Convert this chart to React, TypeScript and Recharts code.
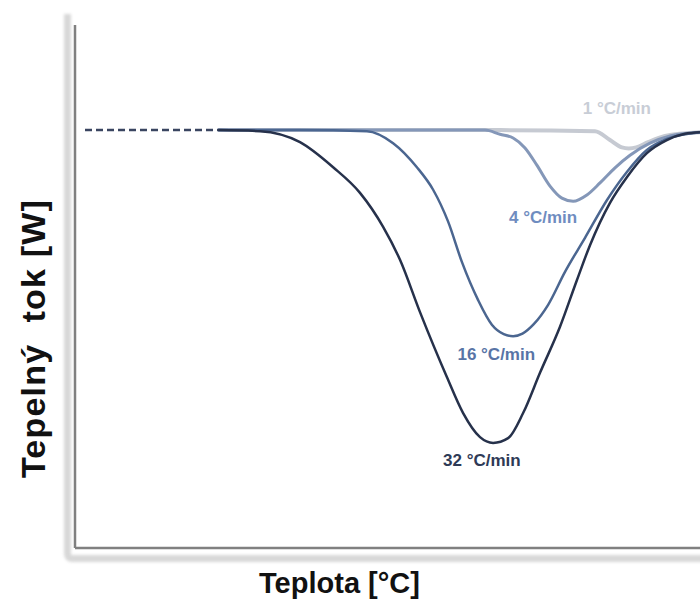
import React from 'react';
import { LineChart, Line, XAxis, YAxis, ReferenceDot } from 'recharts';

// temperature (arbitrary units 0-100) vs heat flow (arbitrary units 0-100)
const baseline = [
  { x: 1.6, y: 79.9 },
  { x: 22.9, y: 79.9 }
];

const rate32 = [
  { x: 22.9, y: 79.9 }, { x: 29.6, y: 79.7 }, { x: 36.0, y: 77.6 }, { x: 41.3, y: 72.8 },
  { x: 45.6, y: 67.9 }, { x: 49.3, y: 61.4 }, { x: 52.0, y: 55.1 }, { x: 55.2, y: 45.1 },
  { x: 59.5, y: 32.7 }, { x: 62.1, y: 25.8 }, { x: 64.8, y: 21.2 }, { x: 66.9, y: 20.1 },
  { x: 69.3, y: 21.0 }, { x: 71.7, y: 25.8 }, { x: 74.4, y: 33.5 }, { x: 77.6, y: 42.3 },
  { x: 80.3, y: 51.2 }, { x: 82.4, y: 57.9 }, { x: 85.6, y: 66.0 }, { x: 88.3, y: 70.9 },
  { x: 91.5, y: 75.5 }, { x: 94.7, y: 78.0 }, { x: 97.6, y: 79.2 }, { x: 100, y: 79.5 }
];

const rate16 = [
  { x: 22.9, y: 79.9 }, { x: 36.0, y: 79.9 }, { x: 46.7, y: 79.7 }, { x: 50.9, y: 77.4 },
  { x: 54.7, y: 72.8 }, { x: 57.3, y: 68.5 }, { x: 59.7, y: 62.4 }, { x: 61.9, y: 54.7 },
  { x: 64.5, y: 47.4 }, { x: 66.7, y: 42.7 }, { x: 68.6, y: 40.9 }, { x: 70.1, y: 40.5 },
  { x: 71.6, y: 41.0 }, { x: 73.4, y: 42.8 }, { x: 75.7, y: 46.5 }, { x: 78.4, y: 52.8 },
  { x: 81.6, y: 59.3 }, { x: 85.1, y: 66.5 }, { x: 88.3, y: 71.9 }, { x: 91.5, y: 76.1 },
  { x: 94.7, y: 78.2 }, { x: 100, y: 79.5 }
];

const rate4 = [
  { x: 22.9, y: 79.9 }, { x: 50.0, y: 79.9 }, { x: 65.6, y: 79.9 }, { x: 68.0, y: 79.1 },
  { x: 70.1, y: 78.4 }, { x: 72.0, y: 76.5 }, { x: 73.9, y: 73.2 }, { x: 76.0, y: 69.2 },
  { x: 77.9, y: 66.9 }, { x: 79.7, y: 66.3 }, { x: 81.9, y: 67.5 }, { x: 84.0, y: 69.8 },
  { x: 86.4, y: 72.7 }, { x: 88.8, y: 75.1 }, { x: 92.0, y: 77.4 }, { x: 95.2, y: 78.8 },
  { x: 100, y: 79.5 }
];

const rate1 = [
  { x: 22.9, y: 79.9 }, { x: 68.0, y: 79.9 }, { x: 83.2, y: 79.7 }, { x: 85.6, y: 78.0 },
  { x: 87.5, y: 76.6 }, { x: 88.6, y: 76.4 }, { x: 89.8, y: 76.6 }, { x: 91.7, y: 77.6 },
  { x: 94.4, y: 78.8 }, { x: 100, y: 79.5 }
];

const rateLabels = ['1 °C/min', '4 °C/min', '16 °C/min', '32 °C/min'];
const labelX = [86.7, 74.9, 67.4, 65.1];
const labelY = [84.1, 63.2, 37.1, 16.8];
const labelColors = ['#c8cdd6', '#6f8cc0', '#5874a6', '#2e3a56'];

const series = [
  { data: rate1, color: '#c6cad2', width: 4 },
  { data: rate4, color: '#8497b8', width: 3 },
  { data: rate16, color: '#4b6690', width: 2.5 },
  { data: rate32, color: '#26314b', width: 2.5 }
];

export default function App() {
  return (
    <div style={{ position: 'absolute', left: 0, top: 0, width: 700, height: 601, background: '#fff' }}>
      <div
        style={{
          position: 'absolute',
          left: 64,
          top: 14,
          width: 660,
          height: 548,
          boxSizing: 'border-box',
          borderLeft: '7px solid #d8d8d8',
          borderBottom: '7px solid #d8d8d8',
          borderBottomLeftRadius: 8,
          filter: 'blur(1.5px)'
        }}
      />
      <div style={{ position: 'absolute', left: 0, top: 0 }}>
        <LineChart width={700} height={601} margin={{ top: 25, right: 0, bottom: 52, left: 74 }}>
          <XAxis
            type="number"
            dataKey="x"
            domain={[0, 100]}
            allowDataOverflow
            tick={false}
            tickLine={false}
            height={1}
            axisLine={{ stroke: '#808080', strokeWidth: 2.5 }}
            label={{
              content: ({ viewBox }: any) => (
                <text
                  x={viewBox.x + viewBox.width / 2 - 48}
                  y={viewBox.y + 45}
                  textAnchor="middle"
                  fontFamily="Liberation Sans, Arial, sans-serif"
                  fontWeight="bold"
                  fontSize={29}
                  fill="#111"
                >
                  Teplota [°C]
                </text>
              )
            }}
          />
          <YAxis
            type="number"
            dataKey="y"
            domain={[0, 100]}
            allowDataOverflow
            tick={false}
            tickLine={false}
            width={1}
            axisLine={{ stroke: '#808080', strokeWidth: 2.5 }}
            label={{
              content: ({ viewBox }: any) => {
                const cx = viewBox.x - 41;
                const cy = viewBox.y + viewBox.height / 2 + 52;
                return (
                  <text
                    x={cx}
                    y={cy}
                    transform={`rotate(-90 ${cx} ${cy})`}
                    textAnchor="middle"
                    dominantBaseline="central"
                    fontFamily="Liberation Sans, Arial, sans-serif"
                    fontWeight="bold"
                    fontSize={34}
                    letterSpacing={1.2}
                    fill="#111"
                  >
                    {'Tepelný\u00a0 tok [W]'}
                  </text>
                );
              }
            }}
          />
          <Line
            data={baseline}
            dataKey="y"
            type="linear"
            stroke="#3a4560"
            strokeWidth={2.5}
            strokeDasharray="7 4"
            dot={false}
            activeDot={false}
            isAnimationActive={false}
          />
          {series.map((s, i) => (
            <Line
              key={i}
              data={s.data}
              dataKey="y"
              type="monotone"
              stroke={s.color}
              strokeWidth={s.width}
              dot={false}
              activeDot={false}
              isAnimationActive={false}
            />
          ))}
          {rateLabels.map((t, i) => (
            <ReferenceDot
              key={t}
              x={labelX[i]}
              y={labelY[i]}
              r={0}
              stroke="none"
              label={{
                value: t,
                position: 'center',
                fill: labelColors[i],
                fontSize: 17,
                fontWeight: 'bold',
                fontFamily: 'Liberation Sans, Arial, sans-serif'
              }}
            />
          ))}
        </LineChart>
      </div>
    </div>
  );
}
